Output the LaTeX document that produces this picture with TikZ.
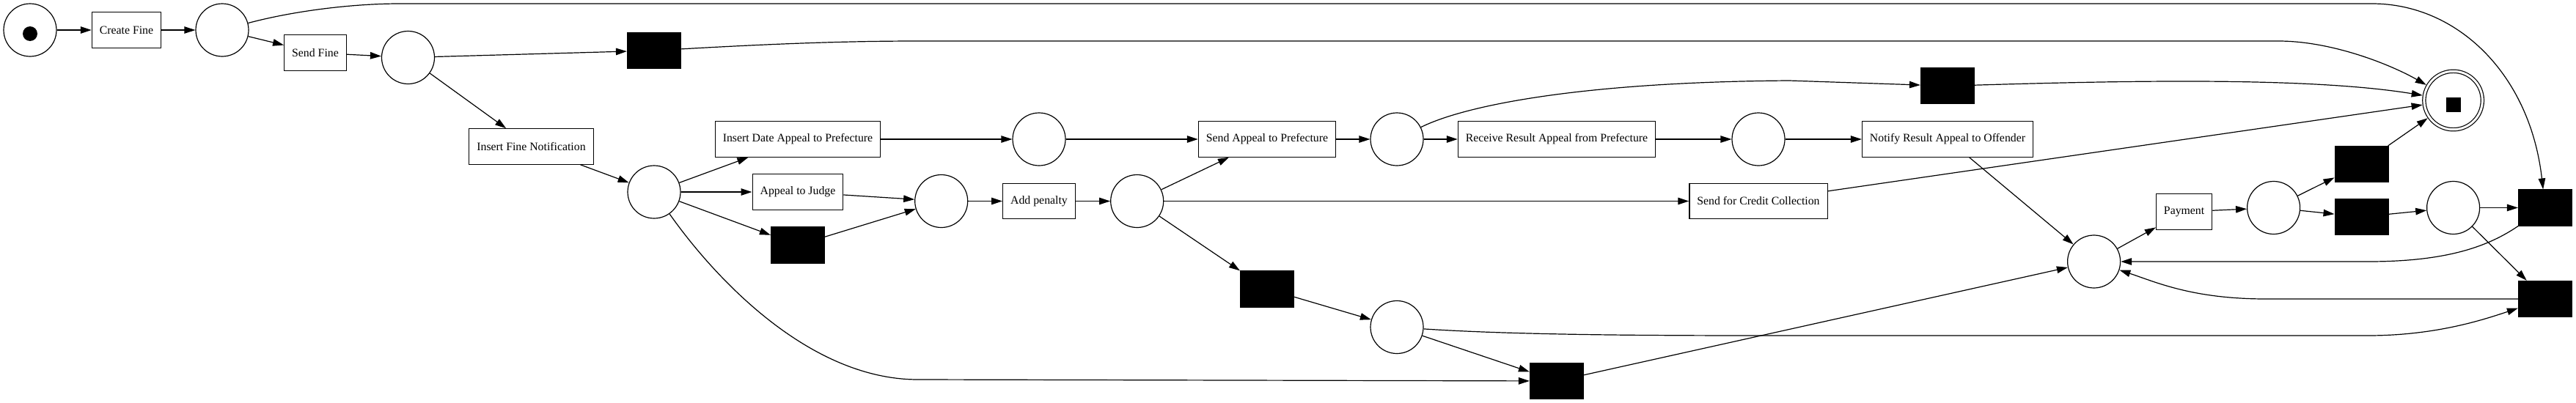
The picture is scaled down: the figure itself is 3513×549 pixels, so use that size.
\documentclass[tikz,border=0pt]{standalone}
\usepackage{fontspec}
\setmainfont{Liberation Serif}
\usetikzlibrary{positioning, arrows.meta}

\begin{document}
\begin{tikzpicture}[x=1pt, y=-1pt, >={Triangle[length=15pt, width=9.5pt]}, line width=1.2pt,
    font=\fontsize{15.8}{19}\selectfont,
    place/.style={circle, draw, minimum size=72pt, inner sep=0pt},
    trans/.style={rectangle, draw, minimum height=48.5pt, inner xsep=10.5pt},
    silent/.style={rectangle, draw, fill=black, minimum width=73pt, minimum height=49pt},
    token/.style={circle, fill=black, minimum size=20pt, inner sep=0pt}]
        \useasboundingbox (0,0) rectangle (3513,549);

        % Start of the process
        \node[place] (start) at (41,41) {};
        \node[token] (tok0) at ([yshift=-5pt]start.center) {};
        \node[trans] (cf) [right of=start, node distance=131.5pt] {Create Fine};
        \node[place] (p1) [right of=cf, node distance=130.5pt] {};
        \node[trans] (sf) [right of=p1, node distance=127pt, yshift=-31pt] {Send Fine};
        \node[place] (p2) [right of=sf, node distance=126.5pt, yshift=-6.5pt] {};
        \node[silent] (t1) [right of=p2, node distance=335.5pt, yshift=9.5pt] {};
        \node[trans] (ifn) [below of=p2, node distance=121.5pt, xshift=168pt] {Insert Fine Notification};
        \node[place] (p3) [below of=t1, node distance=193pt] {};

        % Appeal branches
        \node[trans] (ida) [right of=p3, node distance=196pt, yshift=72pt] {Insert Date Appeal to Prefecture};
        \node[trans] (aj) [right of=p3, node distance=196pt] {Appeal to Judge};
        \node[silent] (t2) [below of=aj, node distance=72.5pt] {};
        \node[place] (p5) [right of=aj, node distance=195.7pt, yshift=-12.5pt] {};
        \node[place] (p4) [right of=ida, node distance=329pt] {};
        \node[trans] (addp) [right of=p5, node distance=133.3pt] {Add penalty};
        \node[place] (p6) [right of=addp, node distance=133.7pt] {};
        \node[trans] (sap) [right of=p4, node distance=311pt] {Send Appeal to Prefecture};
        \node[silent] (t3) [below of=sap, node distance=204.4pt] {};
        \node[place] (p7) [right of=sap, node distance=177pt] {};
        \node[place] (p9) [below of=p7, node distance=256.5pt] {};
        \node[trans] (rr) [right of=p7, node distance=218pt] {Receive Result Appeal from Prefecture};
        \node[silent] (tb) [below of=rr, node distance=330pt] {};
        \node[place] (p8) [right of=rr, node distance=275pt] {};
        \node[trans] (scc) [below of=p8, node distance=84.5pt] {Send for Credit Collection};
        \node[trans] (nr) [right of=p8, node distance=258pt] {Notify Result Appeal to Offender};
        \node[silent] (t4) [above of=nr, node distance=72.7pt] {};

        % Payment part
        \node[place] (p10) [right of=nr, node distance=199.6pt, yshift=-167pt] {};
        \node[trans] (pay) [right of=p10, node distance=123pt, yshift=68pt] {Payment};
        \node[place] (p11) [right of=pay, node distance=122pt, yshift=5.5pt] {};
        \node[silent] (t6) [right of=p11, node distance=120pt, yshift=-12.5pt] {};
        \node[silent] (t5) [right of=p11, node distance=120pt, yshift=59.5pt] {};
        \node[place] (p12) [right of=t6, node distance=125pt, yshift=12.5pt] {};
        \node[place, double, double distance=3pt, minimum size=79.5pt, outer sep=2.7pt] (fin) [above of=p12, node distance=146.5pt] {};
        \node[fill=black, minimum width=20pt, minimum height=19.5pt, inner sep=0pt] (tok1) at ([yshift=-6pt]fin.center) {};
        \node[silent] (t7) [right of=p12, node distance=125.4pt] {};
        \node[silent] (t8) [below of=t7, node distance=124.5pt] {};

        \path[->]
        (start) edge (cf)
        (cf) edge (p1)
        (p1) edge (sf)
        (sf) edge (p2)
        (p2) edge (t1)
        (p2) edge (ifn)
        (ifn) edge (p3)
        % From the notified fine
        (p3) edge (ida)
        (p3) edge (aj)
        (p3) edge (t2)
        (ida) edge (p4)
        (p4) edge (sap)
        (aj) edge (p5)
        (t2) edge (p5)
        (p5) edge (addp)
        (addp) edge (p6)
        (p6) edge (sap)
        (p6) edge (scc)
        (p6) edge (t3)
        (sap) edge (p7)
        (p7) edge (rr)
        (rr) edge (p8)
        (p8) edge (nr)
        (t3) edge (p9)
        (p9) edge (tb)
        (tb) edge (p10)
        (nr) edge (p10)
        (scc) edge (fin)
        % Payment loop
        (p10) edge (pay)
        (pay) edge (p11)
        (p11) edge (t5)
        (p11) edge (t6)
        (t5) edge (fin)
        (t6) edge (p12)
        (p12) edge (t7)
        (p12) edge (t8);

        % Long arcs
        \draw[->] (p1) .. controls (400,15) and (480,5) .. (545,5) -- (3235,5)
            .. controls (3350,5) and (3450,100) .. (t7);
        \draw[->] (t1) .. controls (1050,60) and (1150,56) .. (1252,56) -- (3107,56)
            .. controls (3180,56) and (3260,88) .. (fin);
        \draw[->] (p7) .. controls (1995,145) and (2150,112) .. (2440,110) -- (t4);
        \draw[->] (t4) .. controls (2900,110) and (3150,105) .. (fin);
        \draw[->] (p3) .. controls (973,377) and (1102,518) .. (1252,518) -- (tb);
        \draw[->] (p9) .. controls (2050,456) and (2200,458) .. (2400,458) -- (3229,458)
            .. controls (3320,458) and (3385,437) .. (t8);
        \draw[->] (t7) .. controls (3395,335) and (3340,357) .. (3230,357) -- (p10);
        \draw[->] (t8) -- (3090,408) .. controls (2990,408) and (2940,385) .. (p10);
\end{tikzpicture}
\end{document}
